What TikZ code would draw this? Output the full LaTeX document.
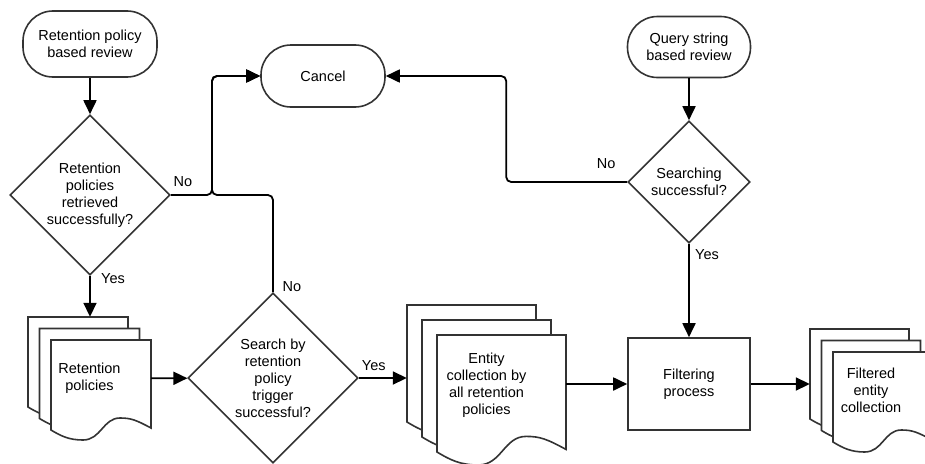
\documentclass[tikz,border=0pt]{standalone}
\usepackage{fontspec}
\setmainfont{Liberation Sans}
\usetikzlibrary{shapes.geometric,arrows.meta}
\definecolor{shapeline}{RGB}{51,51,51}

\newcommand{\docsheet}[4]{%
  \draw[sheet] (#1,#2) -- (#1+#3,#2) -- (#1+#3,#2+0.88*#4)
    .. controls (#1+0.85*#3,#2+0.8*#4) and (#1+0.8*#3,#2+0.78*#4) .. (#1+0.69*#3,#2+0.78*#4)
    .. controls (#1+0.52*#3,#2+0.78*#4) and (#1+0.5*#3,#2+#4) .. (#1+0.32*#3,#2+#4)
    .. controls (#1+0.18*#3,#2+#4) and (#1+0.1*#3,#2+0.96*#4) .. (#1,#2+0.9*#4) -- cycle;}
\newcommand{\docstack}[5]{%
  \foreach \k in {0,1,2}{%
    \pgfmathsetmacro{\sx}{#1+\k*#5}%
    \pgfmathsetmacro{\sy}{#2+\k*#5}%
    \docsheet{\sx}{\sy}{#3}{#4}}}

\begin{document}
\begin{tikzpicture}[x=1pt, y=-1pt,
    font=\fontsize{14.5}{17}\selectfont,
    box/.style={draw=shapeline, line width=1.6pt, fill=white, align=center, inner sep=2pt},
    term/.style={box, rounded corners=30pt, minimum width=124pt, minimum height=62pt},
    decision/.style={box, diamond, aspect=1, inner sep=0pt},
    sheet/.style={draw=shapeline, line width=1.6pt, fill=white},
    docs/.style={align=center, inner sep=0pt},
    flow/.style={draw=black, line width=1.8pt, rounded corners=5pt, -{Triangle[length=14pt,width=13pt]}},
    lbl/.style={inner sep=0pt}]
 \path[use as bounding box, clip] (0,0) rectangle (925,463);

 \node[term, minimum width=134pt, minimum height=66pt] (rpstart) at (90,44) {Retention policy\\based review};
 \node[decision, minimum size=160pt] (rpok) at (90,195) {Retention\\policies\\retrieved\\successfully?};
 \node[term] (cancel) at (323,76) {Cancel};
 \node[term, minimum width=123pt, minimum height=61pt] (qsstart) at (689,47) {Query string\\based review};
 \node[decision, minimum size=122pt] (qsok) at (689,182) {Searching\\successful?};

 \docstack{28}{317}{100}{100}{11.5}
 \node[docs, minimum width=123pt, minimum height=123pt] (rpdocs) at (89.5,378.5) {Retention\\policies};
 \node[decision, minimum size=170pt] (trigok) at (273,378) {Search by\\retention\\policy\\trigger\\successful?};
 \docstack{407}{305}{129}{130}{15}
 \node[docs, minimum width=159pt, minimum height=160pt] (entdocs) at (486.5,385) {Entity\\collection by\\all retention\\policies};
 \node[box, minimum width=122pt, minimum height=92pt] (filter) at (689,384) {Filtering\\process};
 \docstack{810}{329}{99}{100}{11.5}
 \node[docs, minimum width=122pt, minimum height=123pt] (fltdocs) at (871,390.5) {Filtered\\entity\\collection};

 \coordinate (rpno) at (212,195);
 \draw[flow] (rpstart) -- (rpok);
 \draw[flow] (rpok.south) -- (rpok.south |- rpdocs.north);
 \draw[flow] (rpdocs) -- (trigok);
 \draw[flow] (trigok.east) -- (trigok.east -| entdocs.west);
 \draw[flow] (entdocs.east |- filter) -- (filter);
 \draw[flow] (filter) -- (filter -| fltdocs.west);
 \draw[flow] (qsstart) -- (qsok);
 \draw[flow] (qsok) -- (filter);
 \draw[flow] (rpok.east) -- (rpno) |- (cancel.west);
 \draw[flow] (trigok.north) |- (rpno) |- (cancel.west);
 \draw[flow] (qsok.west) -- ++(-121,0) |- (cancel.east);

 \node[lbl] (rpnolbl) at ([xshift=12pt,yshift=13pt]rpok.east) {No};
 \node[lbl] (rpyeslbl) at ([xshift=23pt,yshift=-3pt]rpok.south) {Yes};
 \node[lbl] (trignolbl) at ([xshift=19pt,yshift=6pt]trigok.north) {No};
 \node[lbl] (trigyeslbl) at ([xshift=15pt,yshift=12pt]trigok.east) {Yes};
 \node[lbl] (qsnolbl) at ([xshift=-21pt,yshift=18pt]qsok.west) {No};
 \node[lbl] (qsyeslbl) at ([xshift=18pt,yshift=-11pt]qsok.south) {Yes};
\end{tikzpicture}
\end{document}
